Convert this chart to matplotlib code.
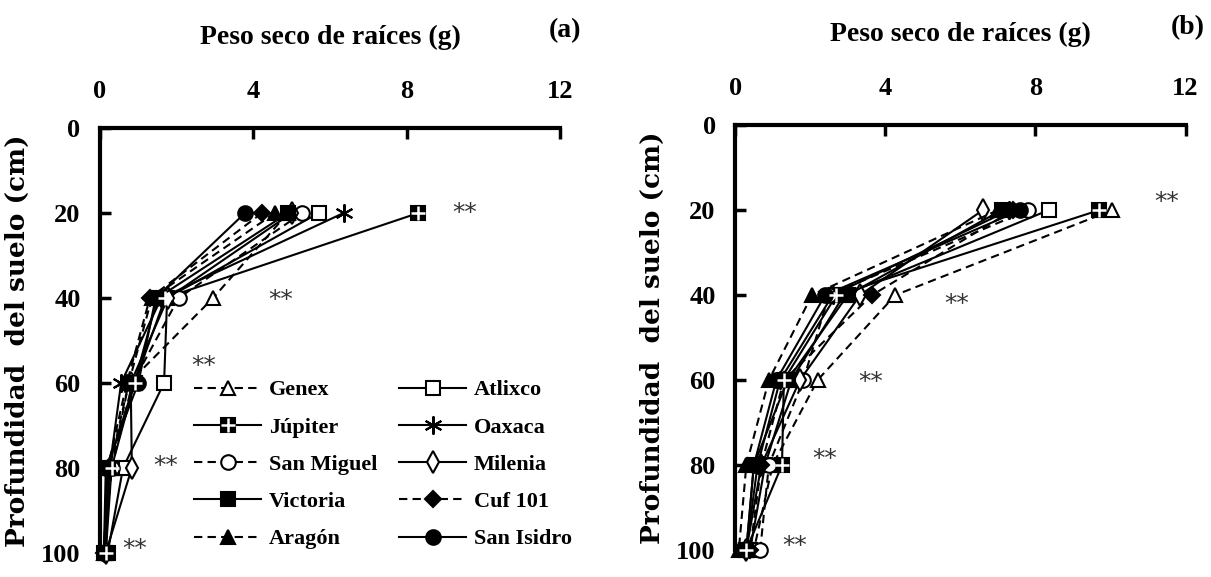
import matplotlib
matplotlib.use("Agg")
import matplotlib.pyplot as plt
from matplotlib.legend_handler import HandlerTuple

plt.rcParams['font.family'] = ['Liberation Serif', 'DejaVu Serif']
plt.rcParams['font.weight'] = 'bold'

depth = [20, 40, 60, 80, 100]
cultivars = ['Genex', 'Atlixco', 'Júpiter', 'Oaxaca', 'San Miguel',
             'Milenia', 'Victoria', 'Cuf 101', 'Aragón', 'San Isidro']

# root dry weight (g) at each depth, panel (a)
peso_a = {
    'Genex':      [4.90, 2.95, 0.75, 0.30, 0.10],
    'Atlixco':    [5.70, 1.75, 1.67, 0.60, 0.20],
    'Júpiter':    [8.30, 1.70, 0.90, 0.30, 0.15],
    'Oaxaca':     [6.35, 1.60, 0.55, 0.25, 0.10],
    'San Miguel': [5.27, 2.05, 0.85, 0.30, 0.10],
    'Milenia':    [5.00, 1.77, 0.80, 0.83, 0.15],
    'Victoria':   [4.90, 1.50, 0.90, 0.20, 0.10],
    'Cuf 101':    [4.22, 1.30, 0.70, 0.20, 0.10],
    'Aragón':     [4.56, 1.35, 0.75, 0.25, 0.15],
    'San Isidro': [3.78, 1.45, 1.00, 0.15, 0.10],
}

# root dry weight (g) at each depth, panel (b)
peso_b = {
    'Genex':      [10.05, 4.27, 2.20, 1.00, 0.50],
    'Atlixco':    [8.35, 2.90, 1.50, 0.80, 0.40],
    'Júpiter':    [9.70, 2.70, 1.30, 1.25, 0.30],
    'Oaxaca':     [7.30, 2.60, 1.20, 0.60, 0.30],
    'San Miguel': [7.80, 2.50, 1.82, 0.90, 0.67],
    'Milenia':    [6.60, 3.33, 1.73, 0.70, 0.30],
    'Victoria':   [7.10, 3.00, 1.40, 0.50, 0.30],
    'Cuf 101':    [7.40, 3.65, 1.30, 0.70, 0.40],
    'Aragón':     [7.00, 2.05, 0.90, 0.30, 0.10],
    'San Isidro': [7.60, 2.40, 1.10, 0.50, 0.30],
}

# significance marks: (x, depth)
sig_a = [(9.5, 20), (4.7, 40.5), (2.7, 56), (1.7, 79.5), (0.9, 99)]
sig_b = [(11.5, 18), (5.9, 42), (3.6, 60.5), (2.4, 78.5), (1.6, 99)]

x_ticks = [0, 4, 8, 12]
y_ticks = [0, 20, 40, 60, 80, 100]

DASH = (0, (4, 2.5))
ASTER = (6, 2, 0)
estilos = {
    'Genex':      ('^', DASH, 'white'),
    'Atlixco':    ('s', '-', 'white'),
    'Júpiter':    ('s', '-', 'black'),
    'Oaxaca':     (ASTER, '-', 'black'),
    'San Miguel': ('o', DASH, 'white'),
    'Milenia':    ('d', '-', 'white'),
    'Victoria':   ('s', '-', 'black'),
    'Cuf 101':    ('D', DASH, 'black'),
    'Aragón':     ('^', DASH, 'black'),
    'San Isidro': ('o', '-', 'black'),
}
sizes = {'Oaxaca': 13, 'Milenia': 11, 'Cuf 101': 8}


def draw_panel(ax, datos, sig, letra, xletra):
    handles = {}
    for nombre in cultivars:
        mk, ls, fc = estilos[nombre]
        ms = sizes.get(nombre, 10.5)
        ln, = ax.plot(datos[nombre], depth, color='black', lw=1.5, ls=ls,
                      marker=mk, ms=ms, mfc=fc, mec='black', mew=1.5,
                      clip_on=False, zorder=3)
        if nombre == 'Júpiter':
            cruz, = ax.plot(datos[nombre], depth, ls='none', marker='+',
                            ms=9.5, mec='white', mew=1.8, clip_on=False, zorder=4)
            handles[nombre] = (ln, cruz)
        else:
            handles[nombre] = ln

    for x, y in sig:
        ax.text(x, y, '**', fontsize=18, fontweight='normal', color='#333333',
                ha='center', va='center', family='DejaVu Sans')

    ax.set_xlim(0, 12)
    ax.set_ylim(100, 0)
    ax.set_xticks(x_ticks)
    ax.set_yticks(y_ticks)
    ax.xaxis.tick_top()
    ax.xaxis.set_label_position('top')
    ax.set_xlabel('Peso seco de raíces (g)', fontsize=20, fontweight='bold',
                  labelpad=26)
    ax.set_ylabel('Profundidad  del suelo (cm)', fontsize=19,
                  fontweight='bold', family='DejaVu Serif', labelpad=8)
    ax.tick_params(axis='both', direction='in', length=8, width=2.5,
                   labelsize=19)
    ax.tick_params(axis='x', pad=18)
    ax.tick_params(axis='y', pad=14)
    for s in ['bottom', 'right']:
        ax.spines[s].set_visible(False)
    for s in ['top', 'left']:
        ax.spines[s].set_linewidth(3)
    ax.text(xletra, 1.23, '(' + letra + ')', transform=ax.transAxes,
            fontsize=20, ha='center', va='center')
    return handles


fig = plt.figure(figsize=(12.11, 5.77), dpi=100)
ax1 = fig.add_axes([0.0826, 0.042, 0.380, 0.736])
ax2 = fig.add_axes([0.607, 0.047, 0.372, 0.736])

h = draw_panel(ax1, peso_a, sig_a, 'a', 1.01)
draw_panel(ax2, peso_b, sig_b, 'b', 1.005)

# legend filled row by row: two names per row
orden = cultivars[0::2] + cultivars[1::2]
ax1.legend([h[n] for n in orden], orden, ncol=2, frameon=False,
           loc='upper left', bbox_to_anchor=(0.205, 0.407),
           borderaxespad=0, borderpad=0, handlelength=3.0,
           handletextpad=0.35, columnspacing=1.0, labelspacing=0.75,
           handler_map={tuple: HandlerTuple(ndivide=1)},
           prop={'weight': 'bold', 'size': 16})

fig.savefig('out.png', dpi=100)
